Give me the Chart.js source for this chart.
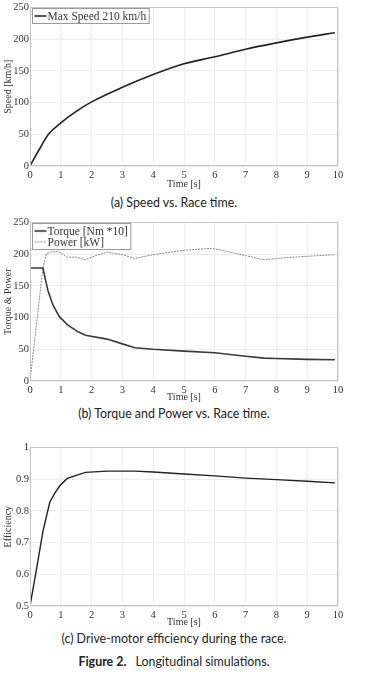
<!DOCTYPE html>
<html>
<head>
<meta charset="utf-8">
<script src="https://cdn.jsdelivr.net/npm/chart.js@4/dist/chart.umd.min.js"></script>
<style>
  body { margin: 0; background: #fff; width: 379px; height: 674px; position: relative; overflow: hidden; }
  canvas { position: absolute; left: 0; }
  .cap { position: absolute; left: 0; width: 348px; text-align: center; font-family: Lato, "Open Sans", sans-serif; font-size: 12.4px; color: #222; line-height: 16px; }
  .fig b { font-weight: bold; margin-right: 6px; }
</style>
</head>
<body>
<canvas id="c1" width="379" height="192" style="top:0"></canvas>
<div class="cap" style="top:195px">(a) Speed vs. Race time.</div>
<canvas id="c2" width="379" height="190" style="top:215px"></canvas>
<div class="cap" style="top:406px">(b) Torque and Power vs. Race time.</div>
<canvas id="c3" width="379" height="190" style="top:440px"></canvas>
<div class="cap" style="top:631px">(c) Drive-motor efficiency during the race.</div>
<div class="cap fig" style="top:654px"><b>Figure 2.</b> Longitudinal simulations.</div>
<script>
// values
const speedTime = [0, 0.3, 0.6, 1, 1.5, 2, 3, 4, 5, 6, 7, 8, 9, 9.9];
const speedVals = [0, 26, 50, 68, 86, 101, 124, 144, 161, 172, 184, 194, 203, 210];

const torqueTime = [0, 0.42, 0.5, 0.58, 0.75, 0.96, 1.23, 1.56, 1.8, 2.5, 3, 3.4, 4, 5, 6, 7, 7.6, 8, 9, 9.9];
const torqueVals = [178, 178, 160, 143, 119, 101, 88, 77.5, 72, 66, 58.5, 52.5, 50, 47, 44.5, 39, 36, 35.5, 34, 33.5];

const powerTime = [0, 0.42, 0.53, 0.65, 0.9, 1.05, 1.2, 1.5, 1.8, 2.1, 2.5, 3, 3.4, 4, 5, 5.9, 6.5, 7.6, 8.5, 9.9];
const powerVals = [0, 178, 200, 203, 204, 200, 195, 195, 191, 197, 203, 199, 193, 199, 206, 209, 203, 191, 195, 199];

const effTime = [0, 0.2, 0.42, 0.64, 0.8, 0.96, 1.21, 1.8, 2.5, 3.4, 4, 5, 6, 7, 8, 9, 9.9];
const effVals = [0.5, 0.61, 0.735, 0.826, 0.855, 0.878, 0.902, 0.921, 0.925, 0.925, 0.922, 0.916, 0.91, 0.903, 0.898, 0.893, 0.888];

const timeTicks = [0, 1, 2, 3, 4, 5, 6, 7, 8, 9, 10];

const serif = "'Liberation Serif', 'DejaVu Serif', serif";

function pts(xs, ys) {
  return xs.map((x, i) => ({ x: x, y: ys[i] }));
}

// box around the plot area + legend drawn inside it
const framePlugin = {
  id: 'frame',
  afterDraw(chart) {
    const ctx = chart.ctx, a = chart.chartArea;
    ctx.save();
    ctx.strokeStyle = '#c4c4c4';
    ctx.lineWidth = 1;
    ctx.strokeRect(Math.round(a.left) + 0.5, Math.round(a.top) + 0.5,
                   Math.round(a.right - a.left) - 1, Math.round(a.bottom - a.top) - 1);

    const sets = chart.data.datasets.filter(d => d.label);
    if (sets.length) {
      ctx.font = '11.5px ' + serif;
      const textW = Math.max(...sets.map(d => ctx.measureText(d.label).width));
      const x0 = Math.round(a.left) + 2.5, y0 = Math.round(a.top) + 1.5;
      const rowH = 11;
      const w = 16 + textW + 2, h = sets.length * rowH + 4;
      ctx.fillStyle = '#fff';
      ctx.fillRect(x0, y0, w, h);
      ctx.strokeStyle = '#9a9a9a';
      ctx.strokeRect(x0, y0, w, h);
      sets.forEach((d, i) => {
        const yy = y0 + 2 + rowH * i + rowH / 2;
        ctx.beginPath();
        ctx.strokeStyle = d.legendColor || d.borderColor;
        ctx.lineWidth = d.legendWidth || d.borderWidth;
        ctx.setLineDash(d.borderDash || []);
        ctx.moveTo(x0 + 2, yy);
        ctx.lineTo(x0 + 14, yy);
        ctx.stroke();
        ctx.setLineDash([]);
        ctx.fillStyle = '#333';
        ctx.textBaseline = 'middle';
        ctx.fillText(d.label, x0 + 15, yy + 0.5);
      });
    }
    ctx.restore();
  }
};

function makeChart(id, datasets, y, areaTop) {
  const cv = document.getElementById(id);
  const H = cv.height;
  return new Chart(cv.getContext('2d'), {
    type: 'line',
    data: { datasets: datasets },
    options: {
      responsive: false,
      animation: false,
      layout: { padding: { top: areaTop, right: 41, left: 0, bottom: 0 } },
      plugins: { legend: { display: false }, tooltip: { enabled: false } },
      elements: { point: { radius: 0 }, line: { tension: 0 } },
      scales: {
        x: {
          type: 'linear', min: 0, max: 10,
          afterBuildTicks: s => { s.ticks = timeTicks.map(v => ({ value: v })); },
          afterFit: s => { s.height = H - 166; },
          grid: { color: '#ececec', drawTicks: false },
          border: { display: false },
          ticks: { color: '#333', padding: 3, font: { family: serif, size: 10.5 } },
          title: { display: true, text: 'Time [s]', color: '#333', padding: { top: 0, bottom: 2 }, font: { family: serif, size: 10 } }
        },
        y: {
          type: 'linear', min: y.min, max: y.max,
          afterBuildTicks: s => { s.ticks = y.ticks.map(v => ({ value: v })); },
          afterFit: s => { s.width = 30; },
          grid: { color: '#ececec', drawTicks: false },
          border: { display: false },
          ticks: { color: '#333', padding: 1, font: { family: serif, size: 10.5 }, callback: y.fmt },
          title: { display: true, text: y.title, color: '#333', padding: { top: 2, bottom: 0 }, font: { family: serif, size: 10 } }
        }
      }
    },
    plugins: [framePlugin]
  });
}

makeChart('c1', [{
  label: 'Max Speed 210 km/h',
  data: pts(speedTime, speedVals),
  borderColor: '#222', borderWidth: 1.6, legendColor: '#555', legendWidth: 2,
  cubicInterpolationMode: 'monotone'
}], { min: 0, max: 250, ticks: [0, 50, 100, 150, 200, 250], title: 'Speed [km/h]', fmt: v => v }, 7);

makeChart('c2', [{
  label: 'Torque [Nm *10]',
  data: pts(torqueTime, torqueVals),
  borderColor: '#3a3a3a', borderWidth: 1.6, legendColor: '#666', legendWidth: 2.2
}, {
  label: 'Power [kW]',
  data: pts(powerTime, powerVals),
  borderColor: '#8a8a8a', borderWidth: 1, borderDash: [2, 1]
}], { min: 0, max: 250, ticks: [0, 50, 100, 150, 200, 250], title: 'Torque & Power', fmt: v => v }, 7);

makeChart('c3', [{
  data: pts(effTime, effVals),
  borderColor: '#222', borderWidth: 1.4
}], { min: 0.5, max: 1, ticks: [0.5, 0.6, 0.7, 0.8, 0.9, 1], title: 'Efficiency', fmt: v => String(+v.toFixed(1)) }, 6);
</script>
</body>
</html>
